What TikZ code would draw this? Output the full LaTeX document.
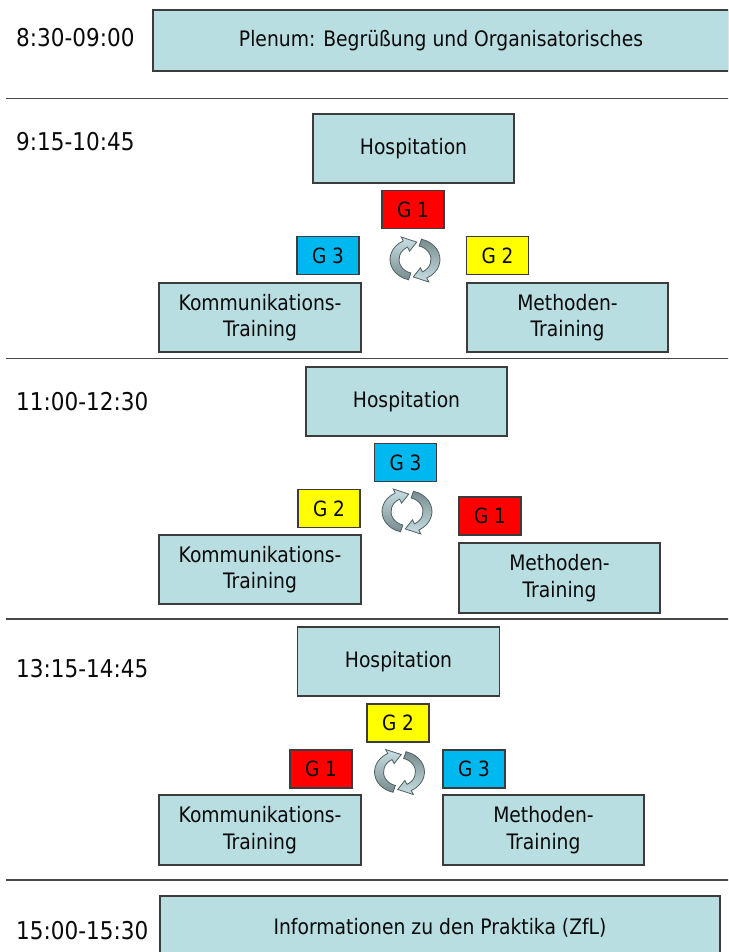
\documentclass[tikz,border=0pt]{standalone}
\usepackage{fontspec}
\setmainfont{DejaVu Sans}[FakeStretch=0.88]
\definecolor{boxfill}{RGB}{185,222,226}
\definecolor{boxline}{RGB}{60,60,60}
\definecolor{txt}{RGB}{10,10,10}
\definecolor{gred}{RGB}{255,0,0}
\definecolor{gyel}{RGB}{255,255,0}
\definecolor{gcya}{RGB}{0,184,240}
\definecolor{sepline}{RGB}{70,70,70}
\definecolor{cyclight}{RGB}{200,224,228}
\definecolor{cycdark}{RGB}{120,140,143}
\definecolor{cycline}{RGB}{80,96,98}
\begin{document}
\begin{tikzpicture}[x=1pt,y=-1pt,
  box/.style={draw=boxline, fill=boxfill, line width=1.3pt, inner sep=0pt, align=center,
    text=txt, font=\fontsize{21.3}{26.5}\selectfont},
  grp/.style={draw=boxline, line width=1.2pt, inner sep=0pt, minimum width=62pt, minimum height=38pt,
    text=txt, font=\fontsize{21}{24}\selectfont},
  timelbl/.style={anchor=west, inner sep=0pt, text=txt, font=\fontsize{24.5}{28}\selectfont},
  sep/.style={draw=sepline, line width=1.5pt},
  cyc/.pic={
    \begin{scope}[y=1pt]
      \path[draw=cycline, line width=0.8pt, top color=cyclight, bottom color=cycdark]
        (255:25 and 21) arc[start angle=255, end angle=118, x radius=25, y radius=21]
        -- (118:29.5 and 25.5) -- (85:20.5 and 17.5) -- (118:11.5 and 9.5) -- (118:16 and 14)
        arc[start angle=118, end angle=255, x radius=16, y radius=14] -- cycle;
      \path[draw=cycline, line width=0.8pt, top color=cycdark, bottom color=cyclight]
        (75:25 and 21) arc[start angle=75, end angle=-62, x radius=25, y radius=21]
        -- (-62:29.5 and 25.5) -- (-95:20.5 and 17.5) -- (-62:11.5 and 9.5) -- (-62:16 and 14)
        arc[start angle=-62, end angle=75, x radius=16, y radius=14] -- cycle;
    \end{scope}
  }]
\useasboundingbox (0,0) rectangle (728,952);
\clip (0,0) rectangle (728,952);

% separator coordinates
\coordinate (s1a) at (6,98.5);  \coordinate (s1b) at (730,98.5);
\coordinate (s2a) at (6,358.5); \coordinate (s2b) at (730,358.5);
\coordinate (s3a) at (6,619);   \coordinate (s3b) at (730,619);
\coordinate (s4a) at (6,880);   \coordinate (s4b) at (730,880);
\draw[sep] (s1a) -- (s1b);
\draw[sep] (s2a) -- (s2b);
\draw[sep] (s3a) -- (s3b);
\draw[sep] (s4a) -- (s4b);

% time labels
\node[timelbl] (t1) at (16,38) {8:30-09:00};
\node[timelbl] (t2) at (16,141.5) {9:15-10:45};
\node[timelbl] (t3) at (16,402) {11:00-12:30};
\node[timelbl] (t4) at (16,669) {13:15-14:45};
\node[timelbl] (t5) at (16,931) {15:00-15:30};

% block 0
\node[box, minimum width=576pt, minimum height=61pt] (plenum) at (441,40.5) {Plenum: Begrüßung und Organisatorisches};

% block 1
\node[box, minimum width=201pt, minimum height=69pt] (hosp1) at (413.5,148.5) {Hospitation};
\node[grp, fill=gred] (g1a) at (413,209.5) {G 1};
\node[grp, fill=gcya] (g3a) at (328,255.5) {G 3};
\node[grp, fill=gyel] (g2a) at (497.5,255.5) {G 2};
\pic at (415,259.5) {cyc};
\node[box, minimum width=202pt, minimum height=69pt] (komm1) at (260,317.5) {Kommunikations-\\Training};
\node[box, minimum width=201pt, minimum height=69pt] (meth1) at (567.5,317.5) {Methoden-\\Training};

% block 2
\node[box, minimum width=201pt, minimum height=69pt] (hosp2) at (406.5,401.5) {Hospitation};
\node[grp, fill=gcya] (g3b) at (405.5,462.5) {G 3};
\node[grp, fill=gyel] (g2b) at (329,508.5) {G 2};
\node[grp, fill=gred] (g1b) at (490,516) {G 1};
\pic at (407,511.5) {cyc};
\node[box, minimum width=202pt, minimum height=69pt] (komm2) at (260,569.5) {Kommunikations-\\Training};
\node[box, minimum width=201pt, minimum height=70pt] (meth2) at (559.5,578) {Methoden-\\Training};

% block 3
\node[box, minimum width=202pt, minimum height=69pt] (hosp3) at (398.5,661.5) {Hospitation};
\node[grp, fill=gyel] (g2c) at (398,723) {G 2};
\node[grp, fill=gred] (g1c) at (321,769) {G 1};
\node[grp, fill=gcya] (g3c) at (474,769) {G 3};
\pic at (399.5,772) {cyc};
\node[box, minimum width=202pt, minimum height=70pt] (komm3) at (260,830) {Kommunikations-\\Training};
\node[box, minimum width=201pt, minimum height=70pt] (meth3) at (543.5,830) {Methoden-\\Training};

% block 4
\node[box, minimum width=560pt, minimum height=64pt] (info) at (440,928) {Informationen zu den Praktika (ZfL)};
\end{tikzpicture}
\end{document}
